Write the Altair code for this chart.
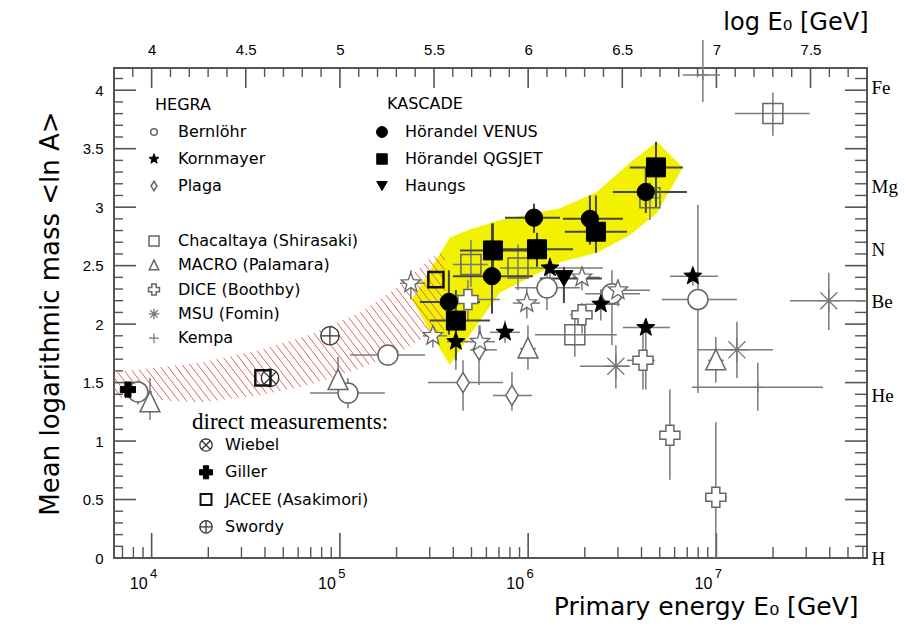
import numpy as np
import pandas as pd
import altair as alt

# ------------------------------------------------------------------
# values: x = log10(E0 / GeV), y = <ln A>
# (centre, then error-bar extents lo / hi)
# ------------------------------------------------------------------
VENUS_E   = [5.579, 5.808, 6.031, 6.328, 6.625]
VENUS_A   = [2.19, 2.41, 2.91, 2.90, 3.13]
VENUS_ELO = [5.425, 5.600, 5.877, 6.185, 6.450]
VENUS_EHI = [5.744, 6.025, 6.169, 6.503, 6.843]
VENUS_ALO = [1.91, 2.09, 2.78, 2.68, 2.95]
VENUS_AHI = [2.46, 2.86, 3.03, 3.10, 3.34]

QGSJET_E   = [5.616, 5.813, 6.047, 6.360, 6.679]
QGSJET_A   = [2.03, 2.63, 2.64, 2.79, 3.34]
QGSJET_ELO = [5.478, 5.638, 5.866, 6.195, 6.540]
QGSJET_EHI = [5.797, 6.009, 6.238, 6.525, 6.822]
QGSJET_ALO = [1.69, 2.40, 2.49, 2.61, 3.00]
QGSJET_AHI = [2.29, 2.86, 2.78, 3.10, 3.56]

HAUNGS_E   = [6.190]
HAUNGS_A   = [2.39]
HAUNGS_ELO = [6.062]
HAUNGS_EHI = [6.392]
HAUNGS_ALO = [2.18]
HAUNGS_AHI = [2.49]

BERN_E   = [3.927, 5.043, 5.255, 6.100, 6.445, 6.902]
BERN_A   = [1.42, 1.41, 1.735, 2.31, 2.26, 2.21]
BERN_ELO = [3.858, 4.841, 5.053, 5.930, 6.303, 6.710]
BERN_EHI = [4.002, 5.239, 5.452, 6.275, 6.594, 7.109]
BERN_ALO = [1.31, 1.28, 1.65, 2.12, 1.82, 1.41]
BERN_AHI = [1.52, 1.54, 1.82, 2.50, 2.46, 3.02]

KORN_E   = [5.616, 5.877, 6.116, 6.386, 6.625, 6.875]
KORN_A   = [1.85, 1.93, 2.48, 2.17, 1.97, 2.41]
KORN_ELO = [5.569, 5.797, 6.020, 6.303, 6.503, 6.753]
KORN_EHI = [5.680, 5.956, 6.397, 6.487, 6.753, 7.008]
KORN_ALO = [1.61, 1.84, 2.38, 2.03, 1.44, 2.33]
KORN_AHI = [1.99, 2.03, 2.57, 2.29, 2.03, 2.48]

KORN2_E   = [5.377, 5.494, 5.744, 5.993, 6.286, 6.477]
KORN2_A   = [2.35, 1.90, 1.85, 2.18, 2.40, 2.29]
KORN2_ELO = [5.319, 5.441, 5.664, 5.919, 6.238, 6.381]
KORN2_EHI = [5.452, 5.569, 5.824, 6.063, 6.381, 6.647]
KORN2_ALO = [2.21, 1.80, 1.69, 2.05, 2.29, 2.15]
KORN2_AHI = [2.46, 1.97, 1.99, 2.32, 2.49, 2.38]

PLAGA_E   = [5.654, 5.914, 5.739]
PLAGA_A   = [1.50, 1.39, 1.78]
PLAGA_ELO = [5.468, 5.813, 5.691]
PLAGA_EHI = [5.866, 6.020, 5.834]
PLAGA_ALO = [1.26, 1.26, 1.48]
PLAGA_AHI = [1.69, 1.59, 1.99]

CHAC_E   = [7.300, 6.248, 5.696, 5.946, 6.647]
CHAC_A   = [3.80, 1.91, 2.51, 2.48, 3.08]
CHAC_ELO = [7.098, 6.036, 5.600, 5.850, 6.594]
CHAC_EHI = [7.496, 6.471, 5.786, 6.025, 6.700]
CHAC_ALO = [3.61, 1.72, 2.32, 2.29, 2.89]
CHAC_AHI = [3.98, 2.10, 2.72, 2.68, 3.21]

MACRO_E   = [3.991, 4.990, 5.999, 6.997]
MACRO_A   = [1.33, 1.52, 1.79, 1.69]
MACRO_ELO = [3.965, 4.963, 5.956, 6.955]
MACRO_EHI = [4.018, 5.016, 6.041, 7.040]
MACRO_ALO = [1.18, 1.46, 1.61, 1.50]
MACRO_AHI = [1.54, 1.72, 1.99, 1.89]

DICE_E   = [5.680, 6.286, 6.610, 6.753, 6.997]
DICE_A   = [2.21, 2.08, 1.69, 1.05, 0.52]
DICE_ELO = [5.531, 6.222, 6.525, 6.700, 6.939]
DICE_EHI = [5.850, 6.344, 6.673, 6.806, 7.056]
DICE_ALO = [2.03, 1.92, 1.44, 0.67, 0.0]
DICE_AHI = [2.38, 2.18, 1.92, 1.44, 1.16]

MSU_E   = [6.466, 7.109, 7.597]
MSU_A   = [1.64, 1.78, 2.20]
MSU_ELO = [6.275, 6.896, 7.390]
MSU_EHI = [6.540, 7.300, 7.799]
MSU_ALO = [1.45, 1.54, 1.95]
MSU_AHI = [1.82, 2.02, 2.44]

KEMPA_E   = [7.220, 6.928]
KEMPA_A   = [1.46, 4.13]
KEMPA_ELO = [6.870, 6.822]
KEMPA_EHI = [7.566, 7.019]
KEMPA_ALO = [1.26, 3.90]
KEMPA_AHI = [1.67, 4.43]

WIEBEL_E = [4.629]
WIEBEL_A = [1.54]
GILLER_E = [3.874]
GILLER_A = [1.44]
JACEE_E  = [4.591, 5.510]
JACEE_A  = [1.54, 2.38]
SWORDY_E = [4.947]
SWORDY_A = [1.90]

# yellow KASCADE band
YEL_E  = [5.383, 5.531, 5.584, 5.691, 5.850, 6.169, 6.365, 6.540, 6.684, 6.822]
YEL_LO = [2.21, 1.79, 1.65, 1.91, 2.27, 2.53, 2.61, 2.76, 2.95, 3.34]
YEL_HI = [2.21, 2.60, 2.74, 2.81, 2.89, 2.99, 3.13, 3.38, 3.56, 3.34]

# red hatched band (direct measurements extrapolation)
HATCH_E  = [3.8, 4.257, 4.575, 4.841, 5.107, 5.319, 5.478, 5.558]
HATCH_HI = [1.59, 1.67, 1.78, 1.91, 2.10, 2.33, 2.56, 2.63]
HATCH_LO = [1.37, 1.33, 1.39, 1.48, 1.62, 1.76, 1.91, 1.95]

# axes
ELEM_NAMES = ["H", "He", "Be", "N", "Mg", "Fe"]
ELEM_A = [1, 4, 9, 14, 24, 56]
BOTTOM_DECADES = [4, 5, 6, 7]
BOTTOM_BASE = ["10", "10", "10", "10"]
BOTTOM_EXP = ["4", "5", "6", "7"]
TOP_LABELS = [4.0, 4.5, 5.0, 5.5, 6.0, 6.5, 7.0, 7.5]
LEFT_LABELS = [0, 0.5, 1, 1.5, 2, 2.5, 3, 3.5, 4]

# ------------------------------------------------------------------
W, H = 753, 490
XDOM = [3.8, 7.8]
YDOM = [0.0, 4.19]
xs = alt.Scale(domain=XDOM, nice=False, zero=False)
ys = alt.Scale(domain=YDOM, nice=False, zero=False)
TICK = "#555555"
SANS = "DejaVu Sans"
SERIF = "Liberation Serif"


def poly_circle(n=28):
    pts = [(np.cos(2 * np.pi * k / n), np.sin(2 * np.pi * k / n)) for k in range(n)]
    return "M" + "L".join(f"{x:.3f},{y:.3f}" for x, y in pts) + "Z"


def star_path(r_in=0.42):
    pts = []
    for k in range(10):
        ang = -np.pi / 2 + k * np.pi / 5
        r = 1.0 if k % 2 == 0 else r_in
        pts.append((r * np.cos(ang), r * np.sin(ang)))
    return "M" + "L".join(f"{x:.3f},{y:.3f}" for x, y in pts) + "Z"


CIRC = poly_circle()
STAR = star_path()
DIAM = "M0,-1L0.62,0L0,1L-0.62,0Z"
TRI = "M0,-1L-0.9,0.85L0.9,0.85Z"
ASTER = "M-1,0L1,0M0,-1L0,1M-0.71,-0.71L0.71,0.71M-0.71,0.71L0.71,-0.71"
PLUS = "M-1,0L1,0M0,-1L0,1"
WIEB = CIRC + "M-0.7,-0.7L0.7,0.7M-0.7,0.7L0.7,-0.7"
SWOR = CIRC + "M-1,0L1,0M0,-1L0,1"

OPEN = "#666666"

SERIES = [
    ("Chacaltaya (Shirasaki)", (CHAC_E, CHAC_A, CHAC_ELO, CHAC_EHI, CHAC_ALO, CHAC_AHI),
     dict(shape="square", size=400, fill="transparent", stroke=OPEN, strokeWidth=1.5), 100, "o"),
    ("Bernlöhr", (BERN_E, BERN_A, BERN_ELO, BERN_EHI, BERN_ALO, BERN_AHI),
     dict(shape="circle", size=400, fill="white", stroke=OPEN, strokeWidth=1.5), 45, "o"),
    ("MACRO (Palamara)", (MACRO_E, MACRO_A, MACRO_ELO, MACRO_EHI, MACRO_ALO, MACRO_AHI),
     dict(shape=TRI, size=484, fill="white", stroke=OPEN, strokeWidth=1.5), 110, "o"),
    ("Plaga", (PLAGA_E, PLAGA_A, PLAGA_ELO, PLAGA_EHI, PLAGA_ALO, PLAGA_AHI),
     dict(shape=DIAM, size=400, fill="white", stroke=OPEN, strokeWidth=1.5), 90, "o"),
    ("DICE (Boothby)", (DICE_E, DICE_A, DICE_ELO, DICE_EHI, DICE_ALO, DICE_AHI),
     dict(shape="cross", size=400, fill="white", stroke=OPEN, strokeWidth=1.5), 120, "o"),
    ("MSU (Fomin)", (MSU_E, MSU_A, MSU_ELO, MSU_EHI, MSU_ALO, MSU_AHI),
     dict(shape=ASTER, size=576, fill="transparent", stroke="#777777", strokeWidth=1.3), 110, "o"),
    ("Kempa", (KEMPA_E, KEMPA_A, KEMPA_ELO, KEMPA_EHI, KEMPA_ALO, KEMPA_AHI),
     dict(shape=PLUS, size=100, fill="transparent", stroke="#777777", strokeWidth=1.2), 100, "o"),
    (None, (KORN2_E, KORN2_A, KORN2_ELO, KORN2_EHI, KORN2_ALO, KORN2_AHI),
     dict(shape=STAR, size=420, fill="white", stroke=OPEN, strokeWidth=1.3), 0, "o"),
    ("Kornmayer", (KORN_E, KORN_A, KORN_ELO, KORN_EHI, KORN_ALO, KORN_AHI),
     dict(shape=STAR, size=360, fill="black", stroke="black", strokeWidth=1), 110, "o"),
    ("Wiebel", (WIEBEL_E, WIEBEL_A, WIEBEL_E, WIEBEL_E, WIEBEL_A, WIEBEL_A),
     dict(shape=WIEB, size=300, fill="white", stroke="#333333", strokeWidth=1.3), 150, "d"),
    ("Giller", (GILLER_E, GILLER_A, GILLER_E, GILLER_E, GILLER_A, GILLER_A),
     dict(shape="cross", size=230, fill="black", stroke="black", strokeWidth=1), 170, "d"),
    ("JACEE (Asakimori)", (JACEE_E, JACEE_A, JACEE_E, JACEE_E, JACEE_A, JACEE_A),
     dict(shape="square", size=230, fill="transparent", stroke="#111111", strokeWidth=2.5), 120, "d"),
    ("Swordy", (SWORDY_E, SWORDY_A, SWORDY_E, SWORDY_E, SWORDY_A, SWORDY_A),
     dict(shape=SWOR, size=330, fill="white", stroke="#333333", strokeWidth=1.3), 150, "d"),
    ("Hörandel VENUS", (VENUS_E, VENUS_A, VENUS_ELO, VENUS_EHI, VENUS_ALO, VENUS_AHI),
     dict(shape="circle", size=300, fill="black", stroke="black", strokeWidth=1), 120, "k"),
    ("Hörandel QGSJET", (QGSJET_E, QGSJET_A, QGSJET_ELO, QGSJET_EHI, QGSJET_ALO, QGSJET_AHI),
     dict(shape="square", size=360, fill="black", stroke="black", strokeWidth=1), 110, "k"),
    ("Haungs", (HAUNGS_E, HAUNGS_A, HAUNGS_ELO, HAUNGS_EHI, HAUNGS_ALO, HAUNGS_AHI),
     dict(shape="triangle-down", size=330, fill="black", stroke="black", strokeWidth=1), 110, "k"),
]

# legend layout (pixel positions relative to plot origin)
LEG_GROUPS = [
    (["Bernlöhr", "Kornmayer", "Plaga"], 40, 64, 64, 27.0),
    (["Chacaltaya (Shirasaki)", "MACRO (Palamara)", "DICE (Boothby)", "MSU (Fomin)", "Kempa"], 40, 64, 173, 24.3),
    (["Hörandel VENUS", "Hörandel QGSJET", "Haungs"], 268, 291, 64, 27.0),
    (["Wiebel", "Giller", "JACEE (Asakimori)", "Swordy"], 92, 111, 377, 27.3),
]
leg_pos = {}
leg_rows = []
for labels, sx, tx, y0, dy in LEG_GROUPS:
    for i, lab in enumerate(labels):
        leg_pos[lab] = (sx, y0 + dy * i)
        leg_rows.append({"px": tx, "py": y0 + dy * i, "label": lab})
leg_rows.append({"px": 41, "py": 37, "label": "HEGRA"})
leg_rows.append({"px": 273, "py": 36, "label": "KASCADE"})
leg_df = pd.DataFrame(leg_rows)

layers = []

# ---------------- bands ----------------
yel = pd.DataFrame({"e": YEL_E, "lo": YEL_LO, "hi": YEL_HI})
layers.append(alt.Chart(yel).mark_area(color="#f2f200", opacity=1, interpolate="linear").encode(
    x=alt.X("e:Q", scale=xs, axis=None), y=alt.Y("hi:Q", scale=ys, axis=None), y2="lo:Q"))

px_per_e = W / (XDOM[1] - XDOM[0])
px_per_a = H / (YDOM[1] - YDOM[0])
slope = 1.3 * px_per_e / px_per_a
gap = 7.8 / px_per_e * slope
grid = np.linspace(HATCH_E[0], HATCH_E[-1], 3000)
hlo = np.interp(grid, HATCH_E, HATCH_LO)
hhi = np.interp(grid, HATCH_E, HATCH_HI)
segs = []
for c in np.arange((hlo + slope * grid).min(), (hhi + slope * grid).max(), gap):
    v = c - slope * grid
    m = np.where((v >= hlo) & (v <= hhi))[0]
    if len(m) > 1:
        e1, e2 = grid[m[0]], grid[m[-1]]
        segs.append({"e1": e1, "a1": c - slope * e1, "e2": e2, "a2": c - slope * e2})
hatch = pd.DataFrame(segs)
layers.append(alt.Chart(hatch).mark_rule(color="#e26464", strokeWidth=1.0).encode(
    x=alt.X("e1:Q", scale=xs, axis=None), x2="e2:Q",
    y=alt.Y("a1:Q", scale=ys, axis=None), y2="a2:Q"))

# ---------------- ticks + axes ----------------
bottom_minor = [round(n + np.log10(k), 4) for n in range(3, 8) for k in range(2, 10)
                if XDOM[0] < n + np.log10(k) < XDOM[1]]
top_minor = [v for v in np.round(np.arange(3.9, 7.8, 0.1), 2) if round(v * 2) != v * 2]
left_minor = [v for v in np.round(np.arange(0.1, 4.2, 0.1), 2) if round(v * 2) != v * 2]

layers.append(alt.Chart(pd.DataFrame({"t": bottom_minor})).mark_rule(color=TICK, strokeWidth=1.4).encode(
    x=alt.X("t:Q", scale=xs, axis=None), y=alt.value(H), y2=alt.value(H - 11)))
layers.append(alt.Chart(pd.DataFrame({"t": BOTTOM_DECADES})).mark_rule(color=TICK, strokeWidth=1.6).encode(
    x=alt.X("t:Q", scale=xs, axis=alt.Axis(
        orient="bottom", values=BOTTOM_DECADES, labels=False,
        title="Primary energy E₀ [GeV]", titleX=744, titleY=48, titleAlign="right",
        titleBaseline="middle", titleFontSize=25, titleFont=SANS)),
    y=alt.value(H), y2=alt.value(H - 25)))
layers.append(alt.Chart(pd.DataFrame({"t": BOTTOM_DECADES, "s": BOTTOM_BASE})).mark_text(
    fontSize=16, font="Liberation Sans", baseline="middle", align="center", dx=-13, color="black").encode(
    x=alt.X("t:Q", scale=xs, axis=None), y=alt.value(H + 26), text="s:N"))
layers.append(alt.Chart(pd.DataFrame({"t": BOTTOM_DECADES, "s": BOTTOM_EXP})).mark_text(
    fontSize=13, font="Liberation Sans", baseline="middle", align="center", dx=2, color="black").encode(
    x=alt.X("t:Q", scale=xs, axis=None), y=alt.value(H + 16), text="s:N"))

layers.append(alt.Chart(pd.DataFrame({"t": top_minor})).mark_rule(color=TICK, strokeWidth=1.4).encode(
    x=alt.X("t:Q", scale=xs, axis=None), y=alt.value(0), y2=alt.value(9)))
layers.append(alt.Chart(pd.DataFrame({"t": TOP_LABELS})).mark_rule(color=TICK, strokeWidth=1.6).encode(
    x=alt.X("t:Q", scale=xs, axis=alt.Axis(
        orient="top", values=TOP_LABELS, labelExpr="datum.value + ''", labelFontSize=15,
        labelPadding=11, labelFont="Liberation Sans",
        title="log E₀ [GeV]", titleX=754, titleY=-46, titleAlign="right",
        titleBaseline="middle", titleFontSize=24, titleFont=SANS)),
    y=alt.value(0), y2=alt.value(20)))

layers.append(alt.Chart(pd.DataFrame({"t": left_minor})).mark_rule(color=TICK, strokeWidth=1.4).encode(
    y=alt.Y("t:Q", scale=ys, axis=None), x=alt.value(0), x2=alt.value(9)))
layers.append(alt.Chart(pd.DataFrame({"t": LEFT_LABELS})).mark_rule(color=TICK, strokeWidth=1.6).encode(
    y=alt.Y("t:Q", scale=ys, axis=alt.Axis(
        orient="left", values=LEFT_LABELS, labelExpr="datum.value + ''", labelFontSize=15,
        labelPadding=11, labelFont="Liberation Sans",
        title="Mean logarithmic mass <ln A>", titleX=-64, titleY=H / 2, titleAngle=270,
        titleAlign="center", titleBaseline="middle", titleFontSize=26, titleFont=SANS)),
    x=alt.value(0), x2=alt.value(22)))

ln_elem = [float(np.log(a)) for a in ELEM_A]
expr = "''"
for name, v in zip(ELEM_NAMES, ln_elem):
    expr = f"abs(datum.value - {v:.4f}) < 0.01 ? '{name}' : " + expr
layers.append(alt.Chart(pd.DataFrame({"t": left_minor})).mark_rule(color=TICK, strokeWidth=1.4).encode(
    y=alt.Y("t:Q", scale=ys, axis=None), x=alt.value(W), x2=alt.value(W - 12)))
layers.append(alt.Chart(pd.DataFrame({"t": LEFT_LABELS})).mark_rule(color=TICK, strokeWidth=1.6).encode(
    y=alt.Y("t:Q", scale=ys, axis=alt.Axis(
        orient="right", values=ln_elem, labelExpr=expr, labelFontSize=19, labelFont=SERIF,
        labelPadding=4, labelOverlap=False, title=None)),
    x=alt.value(W), x2=alt.value(W - 22)))

# ---------------- error bars ----------------
rows = []
for lab, (E, A, ELO, EHI, ALO, AHI), st, lsz, grp in SERIES:
    for i in range(len(E)):
        rows.append({"grp": grp, "e": E[i], "a": A[i], "elo": ELO[i], "ehi": EHI[i],
                     "alo": ALO[i], "ahi": AHI[i]})
err = pd.DataFrame(rows)
for grp, col, wd in [("o", "#7a7a7a", 1.5), ("k", "#444444", 2.0)]:
    d = err[err.grp == grp]
    layers.append(alt.Chart(d).mark_rule(color=col, strokeWidth=wd).encode(
        x=alt.X("elo:Q", scale=xs, axis=None), x2="ehi:Q", y=alt.Y("a:Q", scale=ys, axis=None)))
    layers.append(alt.Chart(d).mark_rule(color=col, strokeWidth=wd).encode(
        x=alt.X("e:Q", scale=xs, axis=None), y=alt.Y("alo:Q", scale=ys, axis=None), y2="ahi:Q"))

# ---------------- markers + legend symbols ----------------
for lab, (E, A, ELO, EHI, ALO, AHI), st, lsz, grp in SERIES:
    layers.append(alt.Chart(pd.DataFrame({"e": E, "a": A})).mark_point(
        filled=True, opacity=1, **st).encode(
        x=alt.X("e:Q", scale=xs, axis=None), y=alt.Y("a:Q", scale=ys, axis=None)))
    if lab is not None and lab in leg_pos:
        sx, sy = leg_pos[lab]
        st2 = dict(st)
        st2["size"] = lsz
        if st2["strokeWidth"] > 2:
            st2["strokeWidth"] = 2
        layers.append(alt.Chart(pd.DataFrame({"k": [0]})).mark_point(
            filled=True, opacity=1, **st2).encode(x=alt.value(sx), y=alt.value(sy)))

layers.append(alt.Chart(leg_df).mark_text(
    font=SANS, fontSize=16, align="left", baseline="middle", color="black").encode(
    x=alt.X("px:Q", scale=None, axis=None), y=alt.Y("py:Q", scale=None, axis=None), text="label:N"))
layers.append(alt.Chart(pd.DataFrame({"k": [0]})).mark_text(
    font=SERIF, fontSize=23, align="left", baseline="middle", color="black").encode(
    x=alt.value(78), y=alt.value(354), text=alt.value("direct measurements:")))

chart = alt.layer(*layers).properties(
    width=W, height=H,
    padding={"left": 106, "top": 60, "right": 31, "bottom": 70},
    autosize=alt.AutoSizeParams(type="none"),
    background="white",
).resolve_axis(x="independent", y="independent").configure_view(
    stroke="#555555", strokeWidth=2
).configure_axis(
    grid=False, domain=False, ticks=False, labelColor="black", titleColor="black",
    titleFontWeight="normal"
)

chart.save("out.html", embed_options={"renderer": "svg", "actions": False})
